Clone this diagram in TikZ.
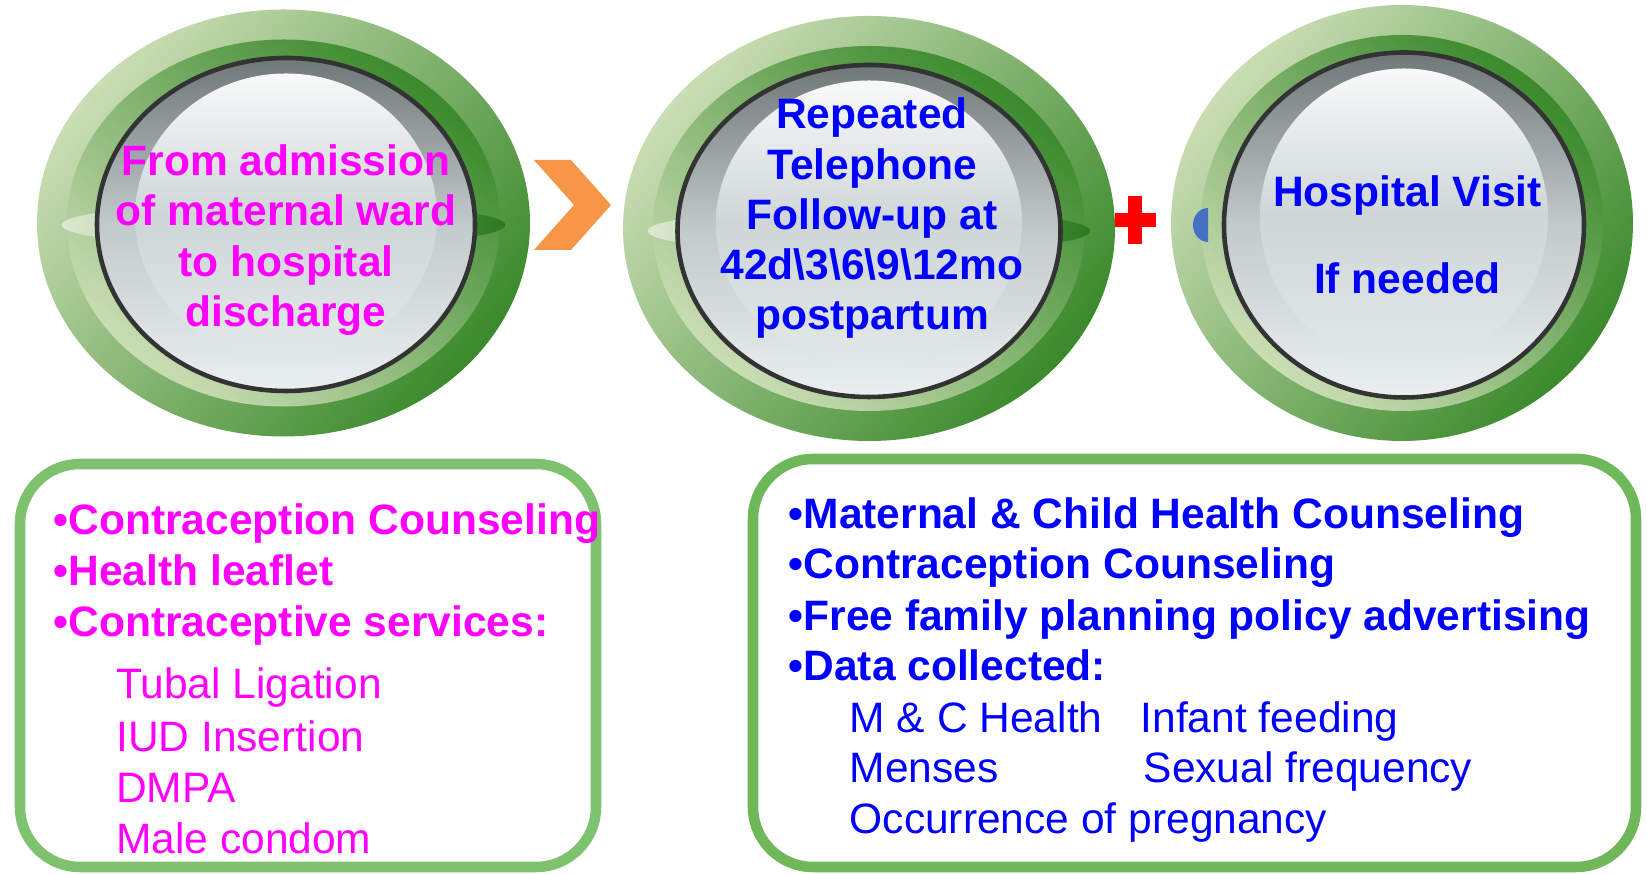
\documentclass[tikz,border=0pt]{standalone}
\usepackage{fontspec}
\setmainfont{Liberation Sans}
\usepackage{tikz}
\usetikzlibrary{shapes.geometric, positioning}
\definecolor{ringlight}{HTML}{CADDB4}
\definecolor{ringdark}{HTML}{3B8A2C}
\definecolor{lenslight}{HTML}{DDE9D0}
\definecolor{lensdark}{HTML}{2C7A20}
\definecolor{rimgray}{HTML}{333333}
\definecolor{dialtop}{HTML}{6F7777}
\definecolor{dialmid}{HTML}{C3CACB}
\definecolor{dialbottom}{HTML}{EBEFEF}
\definecolor{glasstop}{HTML}{F8F9F9}
\definecolor{glassmid}{HTML}{CFD6D8}
\definecolor{glassbottom}{HTML}{E3E9E9}
\definecolor{arroworange}{HTML}{F79646}
\definecolor{crossred}{HTML}{FF0000}
\definecolor{tabblue}{HTML}{4670C2}
\definecolor{boxgreenL}{HTML}{7EC26F}
\definecolor{boxgreenR}{HTML}{6FB859}
\definecolor{mpink}{HTML}{FF00FF}
\definecolor{mblue}{HTML}{0000FF}

\begin{document}
\begin{tikzpicture}[
        outerring/.style = {ellipse, inner sep=0pt, top color=ringlight, bottom color=ringdark, shading angle=50},
        band/.style = {ellipse, inner sep=0pt, top color=ringdark, bottom color=ringlight, shading angle=-40},
        lens/.style = {ellipse, inner sep=0pt, minimum height=0.45cm, left color=lenslight, right color=lensdark},
        dial/.style = {ellipse, inner sep=0pt, draw=rimgray, line width=1.3pt, top color=dialtop, bottom color=dialbottom, middle color=dialmid},
        glass/.style = {ellipse, inner sep=0pt, top color=glasstop, bottom color=glassbottom, middle color=glassmid},
        stagetext/.style = {align=center, inner sep=0pt, font=\bfseries\fontsize{12.1pt}{14.3pt}\selectfont},
        infobox/.style = {rectangle, rounded corners=0.6cm, line width=3pt, inner sep=0pt, fill=white},
        headline/.style = {anchor=base west, inner sep=0pt, font=\bfseries\fontsize{12.1pt}{14.5pt}\selectfont},
        itemline/.style = {anchor=base west, inner sep=0pt, font=\fontsize{12.1pt}{14.5pt}\selectfont}
    ]
        \useasboundingbox[fill=white] (0,0) rectangle (16.47,8.75);

        % Stage 1: in hospital
        \node (admitOuter) [outerring, minimum width=4.93cm, minimum height=4.27cm] at (2.835,6.52) {};
        \node (admitBand) [band, minimum width=4.33cm, minimum height=3.67cm] at (admitOuter.center) {};
        \node (admitLens) [lens, minimum width=4.44cm] at (2.835,6.50) {};
        \node (admitDial) [dial, minimum width=3.78cm, minimum height=3.33cm] at (2.86,6.505) {};
        \node (admitGlass) [glass, minimum width=3.02cm, minimum height=2.86cm] at (2.86,6.585) {};
        \node (admitText) [stagetext, text=mpink] at (2.86,6.35) {From admission\\of maternal ward\\to hospital\\discharge};

        % Stage 2: telephone follow-up
        \node (phoneOuter) [outerring, minimum width=4.92cm, minimum height=4.25cm] at (8.69,6.465) {};
        \node (phoneBand) [band, minimum width=4.32cm, minimum height=3.65cm] at (phoneOuter.center) {};
        \node (phoneLens) [lens, minimum width=4.43cm] at (8.69,6.44) {};
        \node (phoneDial) [dial, minimum width=3.83cm, minimum height=3.32cm] at (8.69,6.44) {};
        \node (phoneGlass) [glass, minimum width=3.06cm, minimum height=2.85cm] at (8.69,6.52) {};
        \node (phoneText) [stagetext, text=mblue] at (8.72,6.565) {Repeated\\Telephone\\Follow-up at\\42d\textbackslash3\textbackslash6\textbackslash9\textbackslash12mo\\postpartum};

        % Stage 3: hospital visit
        \node (visitOuter) [outerring, minimum width=4.62cm, minimum height=4.36cm] at (14.02,6.52) {};
        \node (visitBand) [band, minimum width=4.02cm, minimum height=3.76cm] at (visitOuter.center) {};
        \fill[tabblue] (12.08,6.67) arc[start angle=90, end angle=270, x radius=0.15, y radius=0.17] -- cycle;
        \node (visitDial) [dial, minimum width=3.6cm, minimum height=3.45cm] at (14.04,6.50) {};
        \node (visitGlass) [glass, minimum width=2.88cm, minimum height=2.97cm] at (14.04,6.58) {};
        \node (visitText) [stagetext, text=mblue] at (14.075,6.40) {Hospital Visit\\[10.4pt]If needed};

        % Links between stages
        \fill[arroworange] (5.34,7.15) -- (5.71,7.15) -- (6.11,6.70) -- (5.71,6.25) -- (5.34,6.25) -- (5.74,6.70) -- cycle;
        \fill[crossred] (11.15,6.48) rectangle (11.56,6.62);
        \fill[crossred] (11.28,6.31) rectangle (11.42,6.79);

        % Boxes below
        \node (inBox) [infobox, draw=boxgreenL, minimum width=5.76cm, minimum height=4.03cm] at (3.08,2.095) {};
        \node (outBox) [infobox, draw=boxgreenR, minimum width=8.83cm, minimum height=4.08cm] at (11.945,2.12) {};

        % In-hospital services
        \node (inCounsel) [headline, text=mpink] at (0.53,3.40) {•Contraception Counseling};
        \node (inLeaflet) [headline, text=mpink] at (0.53,2.895) {•Health leaflet};
        \node (inServices) [headline, text=mpink] at (0.53,2.38) {•Contraceptive services:};
        \node (tubal) [itemline, text=mpink] at (1.155,1.76) {Tubal Ligation};
        \node (iud) [itemline, text=mpink] at (1.155,1.23) {IUD Insertion};
        \node (dmpa) [itemline, text=mpink] at (1.155,0.72) {DMPA};
        \node (condom) [itemline, text=mpink] at (1.155,0.21) {Male condom};

        % Follow-up services
        \node (outMCH) [headline, text=mblue] at (7.88,3.465) {•Maternal \& Child Health Counseling};
        \node (outCounsel) [headline, text=mblue] at (7.88,2.96) {•Contraception Counseling};
        \node (outPolicy) [headline, text=mblue] at (7.88,2.445) {•Free family planning policy advertising};
        \node (outData) [headline, text=mblue] at (7.88,1.94) {•Data collected:};
        \node (mcHealth) [itemline, text=mblue] at (8.49,1.42) {M \& C Health};
        \node (feeding) [itemline, text=mblue] at (11.40,1.42) {Infant feeding};
        \node (menses) [itemline, text=mblue] at (8.49,0.92) {Menses};
        \node (sexfreq) [itemline, text=mblue] at (11.43,0.92) {Sexual frequency};
        \node (pregnancy) [itemline, text=mblue] at (8.49,0.41) {Occurrence of pregnancy};

    \end{tikzpicture}
\end{document}
